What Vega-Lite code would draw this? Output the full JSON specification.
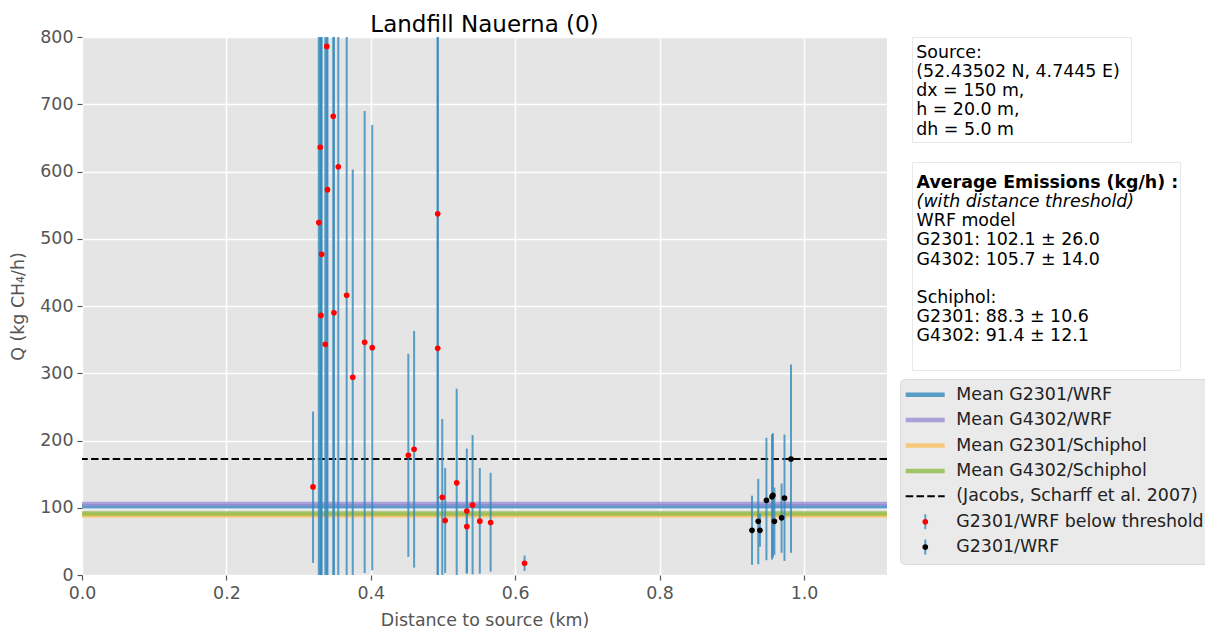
{
  "$schema": "https://vega.github.io/schema/vega-lite/v6.json",
  "padding": {"left": 9, "top": 13, "right": 0, "bottom": 0},
  "config": {
    "font": "DejaVu Sans",
    "view": {"stroke": null},
    "axis": {"domain": false, "gridColor": "white", "gridWidth": 1.5, "tickColor": "#555555", "tickSize": 5, "tickWidth": 1.2, "labelColor": "#555555", "labelFontSize": 17.4, "labelFont": "DejaVu Sans", "labelFlush": false, "labelOverlap": false, "titleColor": "#555555", "titleFontSize": 17.4, "titleFont": "DejaVu Sans", "titleFontWeight": "normal", "labelPadding": 4},
    "title": {"font": "DejaVu Sans"},
    "text": {"font": "DejaVu Sans"}
  },
  "datasets": {
    "points": [
      {"x": 0.320, "q": 131, "lo": 18, "hi": 243, "series": "G2301/WRF below threshold"},
      {"x": 0.328, "q": 524, "lo": -350, "hi": 1400, "series": "G2301/WRF below threshold"},
      {"x": 0.330, "q": 636, "lo": -250, "hi": 1520, "series": "G2301/WRF below threshold"},
      {"x": 0.331, "q": 386, "lo": -520, "hi": 1290, "series": "G2301/WRF below threshold"},
      {"x": 0.332, "q": 477, "lo": -430, "hi": 1380, "series": "G2301/WRF below threshold"},
      {"x": 0.337, "q": 343, "lo": -150, "hi": 836, "series": "G2301/WRF below threshold"},
      {"x": 0.339, "q": 786, "lo": -120, "hi": 1690, "series": "G2301/WRF below threshold"},
      {"x": 0.340, "q": 573, "lo": -230, "hi": 1380, "series": "G2301/WRF below threshold"},
      {"x": 0.348, "q": 682, "lo": -140, "hi": 1500, "series": "G2301/WRF below threshold"},
      {"x": 0.349, "q": 390, "lo": -420, "hi": 1200, "series": "G2301/WRF below threshold"},
      {"x": 0.355, "q": 607, "lo": -60, "hi": 1275, "series": "G2301/WRF below threshold"},
      {"x": 0.3666, "q": 416, "lo": -30, "hi": 862, "series": "G2301/WRF below threshold"},
      {"x": 0.375, "q": 294, "lo": -15, "hi": 603, "series": "G2301/WRF below threshold"},
      {"x": 0.3915, "q": 346, "lo": 3, "hi": 690, "series": "G2301/WRF below threshold"},
      {"x": 0.402, "q": 338, "lo": 7, "hi": 669, "series": "G2301/WRF below threshold"},
      {"x": 0.452, "q": 178, "lo": 27, "hi": 329, "series": "G2301/WRF below threshold"},
      {"x": 0.460, "q": 187, "lo": 11, "hi": 363, "series": "G2301/WRF below threshold"},
      {"x": 0.4927, "q": 537, "lo": -120, "hi": 1195, "series": "G2301/WRF below threshold"},
      {"x": 0.4927, "q": 337, "lo": -320, "hi": 995, "series": "G2301/WRF below threshold"},
      {"x": 0.499, "q": 115.5, "lo": -1, "hi": 232, "series": "G2301/WRF below threshold"},
      {"x": 0.503, "q": 81, "lo": 3, "hi": 159, "series": "G2301/WRF below threshold"},
      {"x": 0.519, "q": 137, "lo": -3, "hi": 277, "series": "G2301/WRF below threshold"},
      {"x": 0.533, "q": 95, "lo": 2, "hi": 188, "series": "G2301/WRF below threshold"},
      {"x": 0.533, "q": 72, "lo": 3, "hi": 141, "series": "G2301/WRF below threshold"},
      {"x": 0.541, "q": 104, "lo": 1, "hi": 208, "series": "G2301/WRF below threshold"},
      {"x": 0.551, "q": 80, "lo": 2, "hi": 159, "series": "G2301/WRF below threshold"},
      {"x": 0.566, "q": 78, "lo": 5, "hi": 152, "series": "G2301/WRF below threshold"},
      {"x": 0.613, "q": 17.5, "lo": 6, "hi": 29, "series": "G2301/WRF below threshold"},
      {"x": 0.928, "q": 66.4, "lo": 15, "hi": 118, "series": "G2301/WRF"},
      {"x": 0.9367, "q": 79.8, "lo": 16, "hi": 143, "series": "G2301/WRF"},
      {"x": 0.939, "q": 66.4, "lo": 42, "hi": 91, "series": "G2301/WRF"},
      {"x": 0.948, "q": 111, "lo": 22, "hi": 204, "series": "G2301/WRF"},
      {"x": 0.9557, "q": 116.5, "lo": 23, "hi": 209, "series": "G2301/WRF"},
      {"x": 0.957, "q": 118.5, "lo": 26, "hi": 211, "series": "G2301/WRF"},
      {"x": 0.959, "q": 79.8, "lo": 30, "hi": 130, "series": "G2301/WRF"},
      {"x": 0.969, "q": 85, "lo": 33, "hi": 136, "series": "G2301/WRF"},
      {"x": 0.973, "q": 114.5, "lo": 21, "hi": 209, "series": "G2301/WRF"},
      {"x": 0.982, "q": 172.5, "lo": 33, "hi": 313, "series": "G2301/WRF"}
    ],
    "means": [
      {"series": "Mean G2301/WRF", "q": 102.1},
      {"series": "Mean G4302/WRF", "q": 105.7},
      {"series": "Mean G2301/Schiphol", "q": 88.3},
      {"series": "Mean G4302/Schiphol", "q": 91.4}
    ],
    "reference": [
      {"series": "(Jacobs, Scharff et al. 2007)", "q": 172.5}
    ],
    "box1": [
      {"line": 0, "text": "Source:"},
      {"line": 1, "text": "(52.43502 N, 4.7445 E)"},
      {"line": 2, "text": "dx = 150 m,"},
      {"line": 3, "text": "h = 20.0 m,"},
      {"line": 4, "text": "dh = 5.0 m"}
    ],
    "box2": [
      {"line": 0, "text": "Average Emissions (kg/h) :"},
      {"line": 1, "text": "(with distance threshold)"},
      {"line": 2, "text": "WRF model"},
      {"line": 3, "text": "G2301: 102.1 ± 26.0"},
      {"line": 4, "text": "G4302: 105.7 ± 14.0"},
      {"line": 6, "text": "Schiphol:"},
      {"line": 7, "text": "G2301: 88.3 ± 10.6"},
      {"line": 8, "text": "G4302: 91.4 ± 12.1"}
    ],
    "legend": [
      {"k": 0, "series": "Mean G2301/WRF"},
      {"k": 1, "series": "Mean G4302/WRF"},
      {"k": 2, "series": "Mean G2301/Schiphol"},
      {"k": 3, "series": "Mean G4302/Schiphol"},
      {"k": 4, "series": "(Jacobs, Scharff et al. 2007)"},
      {"k": 5, "series": "G2301/WRF below threshold"},
      {"k": 6, "series": "G2301/WRF"}
    ]
  },
  "spacing": 9,
  "hconcat": [
    {
      "title": {"text": "Landfill Nauerna (0)", "fontSize": 23, "fontWeight": "normal", "color": "black", "frame": "group", "anchor": "middle", "offset": -9},
      "width": 805,
      "height": 538,
      "view": {"fill": "#E5E5E5", "stroke": null},
      "layer": [
        {
          "data": {"name": "means"},
          "mark": {"type": "rule", "strokeWidth": 4.5, "opacity": 0.8},
          "encoding": {
            "y": {"field": "q", "type": "quantitative", "scale": {"domain": [0, 800], "nice": false, "zero": false}, "axis": {"values": [0, 100, 200, 300, 400, 500, 600, 700, 800], "title": "Q  (kg CH₄/h)", "titlePadding": 12}},
            "color": {"field": "series", "type": "nominal", "scale": {"domain": ["Mean G2301/WRF", "Mean G4302/WRF", "Mean G2301/Schiphol", "Mean G4302/Schiphol", "(Jacobs, Scharff et al. 2007)", "G2301/WRF below threshold", "G2301/WRF"], "range": ["#348ABD", "#988ED5", "#FBC15E", "#8EBA42", "black", "red", "black"]}, "legend": null}
          }
        },
        {
          "data": {"name": "reference"},
          "mark": {"type": "rule", "strokeWidth": 2, "strokeDash": [7.5, 3.3], "color": "black"},
          "encoding": {
            "y": {"field": "q", "type": "quantitative"}
          }
        },
        {
          "data": {"name": "points"},
          "mark": {"type": "rule", "strokeWidth": 2, "color": "#348ABD", "opacity": 0.8, "clip": true},
          "encoding": {
            "x": {"field": "x", "type": "quantitative", "scale": {"domain": [0, 1.115], "nice": false, "zero": false}, "axis": {"values": [0, 0.2, 0.4, 0.6, 0.8, 1.0], "format": ".1f", "title": "Distance to source (km)", "titlePadding": 10}},
            "y": {"field": "lo", "type": "quantitative"},
            "y2": {"field": "hi"}
          }
        },
        {
          "data": {"name": "points"},
          "mark": {"type": "circle", "size": 32, "opacity": 1, "clip": true},
          "encoding": {
            "x": {"field": "x", "type": "quantitative"},
            "y": {"field": "q", "type": "quantitative"},
            "color": {"field": "series", "type": "nominal", "scale": {"domain": ["Mean G2301/WRF", "Mean G4302/WRF", "Mean G2301/Schiphol", "Mean G4302/Schiphol", "(Jacobs, Scharff et al. 2007)", "G2301/WRF below threshold", "G2301/WRF"], "range": ["#348ABD", "#988ED5", "#FBC15E", "#8EBA42", "black", "red", "black"]}, "legend": null}
          }
        }
      ]
    },
    {
      "title": {"text": "Landfill Nauerna (0)", "fontSize": 23, "fontWeight": "normal", "color": "transparent", "frame": "group", "anchor": "start", "offset": -0.3},
      "spacing": 7,
      "vconcat": [
        {
          "spacing": 10,
          "hconcat": [
            {
              "width": 1,
              "height": 10,
              "data": {"values": []},
              "mark": "point"
            },
            {
              "spacing": 18,
              "vconcat": [
                {
                  "width": 219,
                  "height": 105,
                  "view": {"fill": "white", "stroke": "#e8e8e8"},
                  "data": {"name": "box1"},
                  "mark": {"type": "text", "align": "left", "baseline": "middle", "fontSize": 17.4, "color": "black"},
                  "encoding": {
                    "x": {"datum": 4.2, "type": "quantitative", "scale": {"domain": [0, 219], "nice": false, "zero": false}, "axis": null},
                    "y": {"field": "line", "type": "quantitative", "scale": {"domain": [-0.818, 4.651], "reverse": true, "nice": false, "zero": false}, "axis": null},
                    "text": {"field": "text"}
                  }
                },
                {
                  "width": 268,
                  "height": 208,
                  "view": {"fill": "white", "stroke": "#e8e8e8"},
                  "data": {"name": "box2"},
                  "encoding": {
                    "x": {"datum": 4.6, "type": "quantitative", "scale": {"domain": [0, 268], "nice": false, "zero": false}, "axis": null},
                    "y": {"field": "line", "type": "quantitative", "scale": {"domain": [-1.078, 9.755], "reverse": true, "nice": false, "zero": false}, "axis": null},
                    "text": {"field": "text"}
                  },
                  "layer": [
                    {"transform": [{"filter": "datum.line === 0"}], "mark": {"type": "text", "align": "left", "baseline": "middle", "fontSize": 17.4, "fontWeight": "bold", "color": "black"}},
                    {"transform": [{"filter": "datum.line === 1"}], "mark": {"type": "text", "align": "left", "baseline": "middle", "fontSize": 17.4, "fontStyle": "italic", "color": "black"}},
                    {"transform": [{"filter": "datum.line >= 2"}], "mark": {"type": "text", "align": "left", "baseline": "middle", "fontSize": 17.4, "color": "black"}}
                  ]
                }
              ]
            }
          ]
        },
        {
          "width": 308,
          "height": 185,
          "view": {"fill": "#eaeaea", "stroke": "#dcdcdc", "cornerRadius": 4},
          "data": {"name": "legend"},
          "encoding": {
            "y": {"field": "k", "type": "quantitative", "scale": {"domain": [-0.618, 6.665], "reverse": true, "nice": false, "zero": false}, "axis": null}
          },
          "layer": [
            {
              "transform": [{"filter": "datum.k <= 3"}],
              "mark": {"type": "rule", "strokeWidth": 4.5, "opacity": 0.8},
              "encoding": {
                "x": {"datum": 5.7, "type": "quantitative", "scale": {"domain": [0, 308], "nice": false, "zero": false}, "axis": null},
                "x2": {"datum": 44.7},
                "color": {"field": "series", "type": "nominal", "scale": {"domain": ["Mean G2301/WRF", "Mean G4302/WRF", "Mean G2301/Schiphol", "Mean G4302/Schiphol", "(Jacobs, Scharff et al. 2007)", "G2301/WRF below threshold", "G2301/WRF"], "range": ["#348ABD", "#988ED5", "#FBC15E", "#8EBA42", "black", "red", "black"]}, "legend": null}
              }
            },
            {
              "transform": [{"filter": "datum.k === 4"}],
              "mark": {"type": "rule", "strokeWidth": 2, "strokeDash": [7.5, 3.3], "color": "black"},
              "encoding": {
                "x": {"datum": 5.7, "type": "quantitative"},
                "x2": {"datum": 44.7}
              }
            },
            {
              "transform": [{"filter": "datum.k >= 5"}],
              "mark": {"type": "tick", "orient": "vertical", "size": 15, "thickness": 2, "color": "#348ABD", "opacity": 0.8},
              "encoding": {
                "x": {"datum": 25.3, "type": "quantitative"}
              }
            },
            {
              "transform": [{"filter": "datum.k >= 5"}],
              "mark": {"type": "circle", "size": 32, "opacity": 1},
              "encoding": {
                "x": {"datum": 25.3, "type": "quantitative"},
                "color": {"field": "series", "type": "nominal", "scale": {"domain": ["Mean G2301/WRF", "Mean G4302/WRF", "Mean G2301/Schiphol", "Mean G4302/Schiphol", "(Jacobs, Scharff et al. 2007)", "G2301/WRF below threshold", "G2301/WRF"], "range": ["#348ABD", "#988ED5", "#FBC15E", "#8EBA42", "black", "red", "black"]}, "legend": null}
              }
            },
            {
              "mark": {"type": "text", "align": "left", "baseline": "middle", "fontSize": 17.4, "color": "#222222"},
              "encoding": {
                "x": {"datum": 56.3, "type": "quantitative"},
                "text": {"field": "series"}
              }
            }
          ]
        }
      ]
    }
  ]
}
